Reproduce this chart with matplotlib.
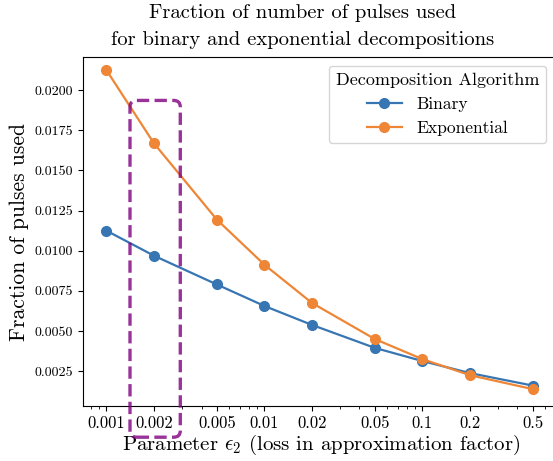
import matplotlib
matplotlib.use("Agg")
import matplotlib.pyplot as plt
from matplotlib.patches import FancyBboxPatch
from matplotlib.ticker import FixedLocator, FixedFormatter, LogLocator, NullFormatter, FormatStrFormatter

# ------------- Data -------------------------------------
eps2 = [0.001, 0.002, 0.005, 0.01, 0.02, 0.05, 0.1, 0.2, 0.5]
eps2_labels = ["0.001", "0.002", "0.005", "0.01", "0.02", "0.05", "0.1", "0.2", "0.5"]
binary_frac = [0.01125, 0.00969, 0.00790, 0.00656, 0.00538, 0.00395, 0.00313, 0.00238, 0.00160]
expo_frac = [0.02125, 0.01669, 0.01194, 0.00913, 0.00675, 0.00450, 0.00325, 0.00225, 0.00138]

plt.rcParams['font.family'] = 'serif'
plt.rcParams['font.serif'] = ['cmr10']
plt.rcParams['mathtext.fontset'] = 'cm'
plt.rcParams['axes.formatter.use_mathtext'] = True

blue = '#3776b2'
orange = '#ee8636'

fig = plt.figure(figsize=(5.53, 4.61), dpi=100)
ax = fig.add_axes([0.150, 0.119, 0.862, 0.757])

ax.plot(eps2, binary_frac, '-o', color=blue, lw=1.6, ms=7, label='Binary')
ax.plot(eps2, expo_frac, '-o', color=orange, lw=1.6, ms=7, label='Exponential')
ax.set_xscale('log')
ax.set_xlim(0.00071, 0.74)
ax.set_ylim(0.00032, 0.02206)

# labelled ticks at the tested values, plain log minor ticks
ax.xaxis.set_major_locator(FixedLocator(eps2))
ax.xaxis.set_major_formatter(FixedFormatter(eps2_labels))
ax.xaxis.set_minor_locator(LogLocator(base=10, subs='auto', numticks=20))
ax.xaxis.set_minor_formatter(NullFormatter())
ax.yaxis.set_major_formatter(FormatStrFormatter('%.4f'))
ax.set_yticks([0.0025, 0.005, 0.0075, 0.01, 0.0125, 0.015, 0.0175, 0.02])
ax.tick_params(axis='x', labelsize=12)
ax.tick_params(axis='y', labelsize=10)

ax.set_xlabel(r'Parameter $\epsilon_2$ (loss in approximation factor)', fontsize=15, labelpad=1)
ax.set_ylabel('Fraction of pulses used', fontsize=15.5)
ax.set_title('Fraction of number of pulses used\nfor binary and exponential decompositions',
             fontsize=14.8, x=0.46, linespacing=1.62, pad=9)

ax.legend(title='Decomposition Algorithm', fontsize=12.6, title_fontsize=13, loc='upper right',
          bbox_to_anchor=(0.99, 1.0))

# dashed highlight around the 0.002 column
box = FancyBboxPatch((0.0987, -0.089), 0.1055, 0.965, boxstyle='round,pad=0,rounding_size=0.014',
                     mutation_aspect=466 / 348, transform=ax.transAxes, clip_on=False,
                     fill=False, edgecolor='purple', alpha=0.8, lw=2.4, ls='--', zorder=5)
ax.add_patch(box)

fig.savefig('out.png', dpi=100)
